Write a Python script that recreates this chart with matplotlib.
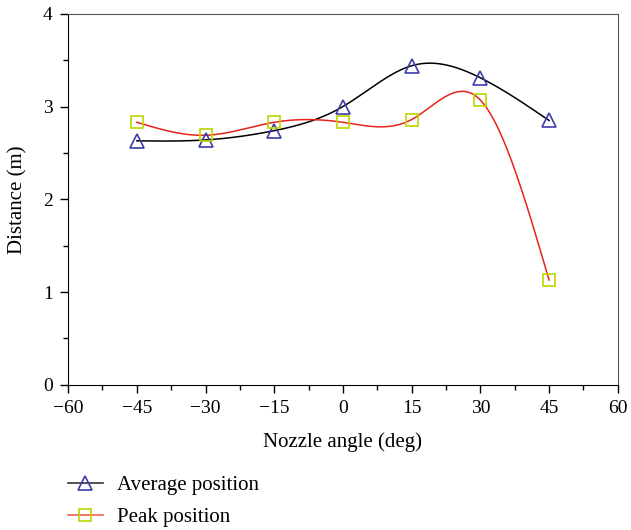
import matplotlib
matplotlib.use("Agg")
import matplotlib.pyplot as plt
import numpy as np
from matplotlib.ticker import MultipleLocator

angle = [-45, -30, -15, 0, 15, 30, 45]
average_pos = [2.63, 2.64, 2.74, 3.00, 3.44, 3.31, 2.85]
peak_pos = [2.83, 2.69, 2.83, 2.83, 2.86, 3.07, 1.13]


def natural_spline(x, y, xs):
    # plain natural cubic spline, no scipy needed
    x = np.asarray(x, float)
    y = np.asarray(y, float)
    n = len(x)
    h = np.diff(x)
    A = np.zeros((n, n))
    b = np.zeros(n)
    A[0, 0] = 1
    A[-1, -1] = 1
    for i in range(1, n - 1):
        A[i, i - 1] = h[i - 1]
        A[i, i] = 2 * (h[i - 1] + h[i])
        A[i, i + 1] = h[i]
        b[i] = 3 * ((y[i + 1] - y[i]) / h[i] - (y[i] - y[i - 1]) / h[i - 1])
    c = np.linalg.solve(A, b)
    out = np.empty_like(xs)
    for k, xv in enumerate(xs):
        i = min(max(np.searchsorted(x, xv) - 1, 0), n - 2)
        d = xv - x[i]
        bi = (y[i + 1] - y[i]) / h[i] - h[i] * (2 * c[i] + c[i + 1]) / 3
        di = (c[i + 1] - c[i]) / (3 * h[i])
        out[k] = y[i] + bi * d + c[i] * d ** 2 + di * d ** 3
    return out


plt.rcParams['font.family'] = ['Liberation Serif', 'DejaVu Serif']
plt.rcParams['font.size'] = 14

fig = plt.figure(figsize=(6.31, 5.30), dpi=100)
ax = fig.add_axes([0.108, 0.274, 0.871, 0.70])

xs = np.linspace(angle[0], angle[-1], 400)
ax.plot(xs, natural_spline(angle, average_pos, xs), color='black', lw=1.1)
ax.plot(xs, natural_spline(angle, peak_pos, xs), color='#e8231c', lw=1.1)
ax.plot(angle, average_pos, ls='none', marker='^', ms=10, mfc='none',
        mec='#3d3dab', mew=1.2)
ax.plot(angle, peak_pos, ls='none', marker='s', ms=8, mfc='none',
        mec='#bcd400', mew=1.2)

ax.set_xlim(-60, 60)
ax.set_ylim(0, 4)
ax.set_xticks(range(-60, 61, 15))
ax.set_xticklabels(['\u221260', '\u221245', '\u221230', '\u221215', '0',
                    '15', '30', '45', '60'])
ax.set_yticks([0, 1, 2, 3, 4])
ax.xaxis.set_minor_locator(MultipleLocator(7.5))
ax.yaxis.set_minor_locator(MultipleLocator(0.5))
ax.tick_params(which='major', direction='out', length=6, width=1, pad=5)
ax.tick_params(which='minor', direction='out', length=3.5, width=1)
for s in ['top', 'right']:
    ax.spines[s].set_color('#555555')
for s in ['left', 'bottom']:
    ax.spines[s].set_color('black')
ax.set_xlabel('Nozzle angle (deg)', labelpad=11, fontsize=15)
ax.set_ylabel('Distance (m)', labelpad=11, fontsize=15)

h1, = ax.plot([], [], color='#333333', lw=1.2, marker='^', ms=10, mfc='none',
              mec='#3d3dab', mew=1.2)
h2, = ax.plot([], [], color='#e8604f', lw=1.2, marker='s', ms=8, mfc='none',
              mec='#bcd400', mew=1.2)
fig.legend([h1, h2], ['Average position', 'Peak position'], loc='upper left',
           bbox_to_anchor=(0.108, 0.103), frameon=False, borderpad=0,
           borderaxespad=0, handlelength=1.65, handletextpad=0.7,
           labelspacing=0.6, fontsize=15)

fig.savefig('out.png', dpi=100)
